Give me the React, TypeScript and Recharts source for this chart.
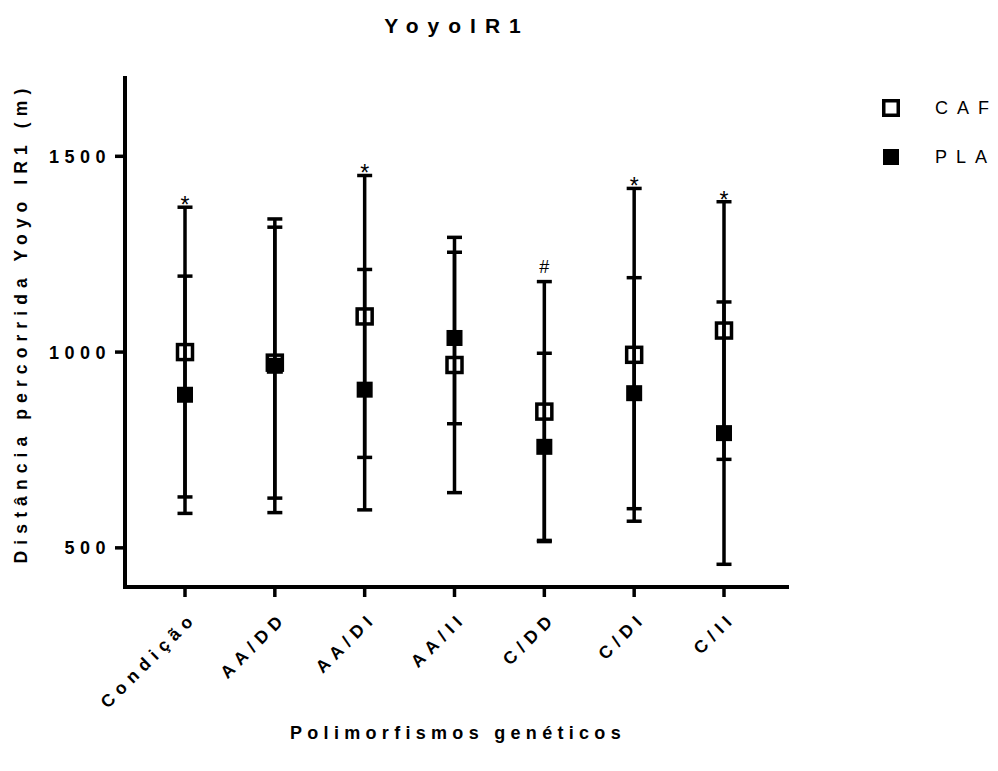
import React from "react";
import { ComposedChart, Line, XAxis, YAxis, ErrorBar, LabelList, Legend } from "recharts";

const categories = ["Condição", "AA/DD", "AA/DI", "AA/II", "C/DD", "C/DI", "C/II"];
const cafMean = [1000, 973, 1091, 967, 848, 993, 1055];
const cafSd = [370, 346, 360, 326, 332, 425, 329];
const plaMean = [891, 965, 904, 1036, 758, 895, 793];
const plaSd = [303, 375, 307, 219, 239, 295, 335];
const annotations = ["*", "", "*", "", "#", "*", "*"];
const yTicks = [500, 1000, 1500];
const yDomain = [400, 1700];

const FONT = '"Liberation Sans", Arial, Helvetica, sans-serif';

const data = categories.map((name, i) => ({
  name,
  caf: cafMean[i],
  cafErr: cafSd[i],
  pla: plaMean[i],
  plaErr: plaSd[i],
  annotY: cafMean[i] + cafSd[i],
  annot: annotations[i],
}));

const OpenSquare = (props: any) => {
  const { cx, cy, index } = props;
  if (cx == null || cy == null) return <g key={`o${index}`} />;
  return (
    <rect key={`o${index}`} x={cx - 7.5} y={cy - 7.5} width={15} height={15} fill="none" stroke="#000" strokeWidth={3.5} />
  );
};

const FilledSquare = (props: any) => {
  const { cx, cy, index } = props;
  if (cx == null || cy == null) return <g key={`f${index}`} />;
  return <rect key={`f${index}`} x={cx - 8} y={cy - 8} width={16} height={16} fill="#000" />;
};

const XTick = (props: any) => {
  const { x, y, payload } = props;
  return (
    <text
      transform={`translate(${x + 13},${y + 20}) rotate(-45)`}
      textAnchor="end"
      fontFamily={FONT}
      fontSize={17.5}
      fontWeight="bold"
      fill="#000"
      style={{ letterSpacing: "6px" }}
    >
      {payload.value}
    </text>
  );
};

const YTick = (props: any) => {
  const { x, y, payload } = props;
  return (
    <text
      x={x}
      y={y}
      dy="0.36em"
      textAnchor="end"
      fontFamily={FONT}
      fontSize={18}
      fontWeight="bold"
      fill="#000"
      style={{ letterSpacing: "5.5px" }}
    >
      {payload.value}
    </text>
  );
};

const AnnotLabel = (props: any) => {
  const { x, y, value, index } = props;
  if (!value) return null;
  const isStar = value === "*";
  return (
    <text
      key={`a${index}`}
      x={x}
      y={y + (isStar ? 6 : -9)}
      textAnchor="middle"
      fontFamily={FONT}
      fontSize={isStar ? 23 : 18}
      fill="#000"
    >
      {value}
    </text>
  );
};

const LegendContent = () => (
  <div style={{ fontFamily: FONT, fontSize: 18, color: "#000", whiteSpace: "nowrap" }}>
    <div style={{ display: "flex", alignItems: "center", height: 20, marginBottom: 29 }}>
      <svg width={18} height={18} style={{ display: "block", flexShrink: 0 }}>
        <rect x={1.75} y={1.75} width={14.5} height={14.5} fill="none" stroke="#000" strokeWidth={3.5} />
      </svg>
      <span style={{ marginLeft: 35, letterSpacing: "9px" }}>CAF</span>
    </div>
    <div style={{ display: "flex", alignItems: "center", height: 20 }}>
      <svg width={18} height={18} style={{ display: "block", flexShrink: 0 }}>
        <rect x={1} y={1} width={16} height={16} fill="#000" />
      </svg>
      <span style={{ marginLeft: 35, letterSpacing: "9px" }}>PLA</span>
    </div>
  </div>
);

export default function App() {
  return (
    <div style={{ position: "relative", width: 982, height: 763, background: "#fff" }}>
      <div
        style={{
          position: "absolute",
          left: 457 - 8,
          top: 25 - 8,
          transform: "translate(-50%, -50%)",
          fontFamily: FONT,
          fontSize: 21,
          fontWeight: "bold",
          letterSpacing: "9px",
          whiteSpace: "nowrap",
          lineHeight: 1,
        }}
      >
        YoyoIR1
      </div>
      <div
        style={{
          position: "absolute",
          left: 22 - 8,
          top: 323 - 8,
          transform: "translate(-50%, -50%) rotate(-90deg)",
          fontFamily: FONT,
          fontSize: 17.5,
          fontWeight: "bold",
          letterSpacing: "6.1px",
          whiteSpace: "nowrap",
          lineHeight: 1,
        }}
      >
        Distância percorrida Yoyo IR1 (m)
      </div>
      <div
        style={{
          position: "absolute",
          left: 458 - 8,
          top: 733 - 8,
          transform: "translate(-50%, -50%)",
          fontFamily: FONT,
          fontSize: 18,
          fontWeight: "bold",
          letterSpacing: "5.3px",
          whiteSpace: "nowrap",
          lineHeight: 1,
        }}
      >
        Polimorfismos genéticos
      </div>
      <ComposedChart
        width={982}
        height={763}
        data={data}
        margin={{ top: 70, left: 37, right: 203, bottom: 64 }}
      >
        <XAxis
          dataKey="name"
          type="category"
          height={120}
          padding={{ left: 60, right: 63 }}
          axisLine={{ stroke: "#000", strokeWidth: 4, strokeLinecap: "square" }}
          tickLine={{ stroke: "#000", strokeWidth: 3.5 }}
          tickSize={10}
          tickMargin={2}
          interval={0}
          tick={<XTick />}
        />
        <YAxis
          type="number"
          domain={yDomain}
          ticks={yTicks}
          width={80}
          axisLine={{ stroke: "#000", strokeWidth: 4, strokeLinecap: "square" }}
          tickLine={{ stroke: "#000", strokeWidth: 3.5 }}
          tickSize={10}
          tickMargin={4}
          allowDataOverflow
          tick={<YTick />}
        />
        <Legend
          layout="horizontal"
          verticalAlign="middle"
          align="center"
          content={<LegendContent />}
          wrapperStyle={{ top: 98 - 8, left: 882 - 8, width: 116, height: 80 }}
        />
        <Line
          dataKey="caf"
          stroke="none"
          isAnimationActive={false}
          dot={OpenSquare}
          activeDot={false}
          legendType="none"
        >
          <ErrorBar dataKey="cafErr" width={7.5} strokeWidth={3.5} stroke="#000" direction="y" />
        </Line>
        <Line
          dataKey="pla"
          stroke="none"
          isAnimationActive={false}
          dot={FilledSquare}
          activeDot={false}
          legendType="none"
        >
          <ErrorBar dataKey="plaErr" width={7.5} strokeWidth={3.5} stroke="#000" direction="y" />
        </Line>
        <Line
          dataKey="annotY"
          stroke="none"
          isAnimationActive={false}
          dot={false}
          activeDot={false}
          legendType="none"
        >
          <LabelList dataKey="annot" content={<AnnotLabel />} />
        </Line>
      </ComposedChart>
    </div>
  );
}
